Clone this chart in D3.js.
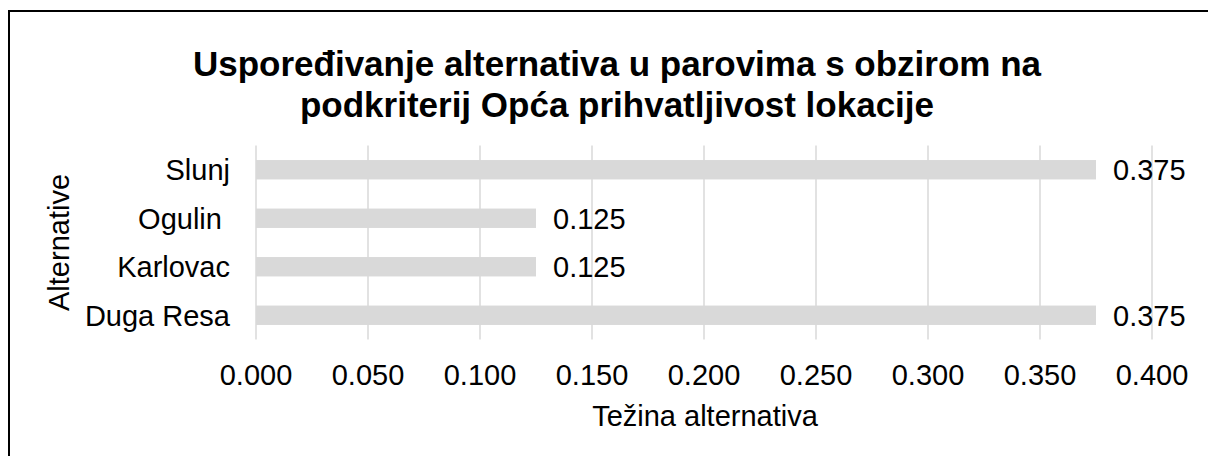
<!DOCTYPE html>
<html>
<head>
<meta charset="utf-8">
<script src="https://cdn.jsdelivr.net/npm/d3@7"></script>
<style>
  html, body { margin: 0; padding: 0; background: #fff; }
  svg { display: block; font-family: "Liberation Sans", Arial, sans-serif; }
</style>
</head>
<body>
<svg id="chart" width="1208" height="456"></svg>
<script>
const titleLines = ["Uspoređivanje alternativa u parovima s obzirom na", "podkriterij Opća prihvatljivost lokacije"];
const categories = ["Slunj", "Ogulin ", "Karlovac", "Duga Resa"];
const values = [0.375, 0.125, 0.125, 0.375];
const tickValues = [0, 0.05, 0.1, 0.15, 0.2, 0.25, 0.3, 0.35, 0.4];
const xTitle = "Težina alternativa";
const yTitle = "Alternative";

const svg = d3.select("#chart");
const FS = 29;

// chart area border (extends past right/bottom edges)
svg.append("rect").attr("x", 9).attr("y", 11).attr("width", 1400).attr("height", 800)
  .attr("fill", "#fff").attr("stroke", "#000").attr("stroke-width", 2);

const plot = { left: 256, right: 1152, top: 145.5, bottom: 339.5 };

const x = d3.scaleLinear().domain([0, 0.4]).range([plot.left, plot.right]);
const y = d3.scaleBand().domain(categories).range([plot.top, plot.bottom])
  .paddingInner(0.6).paddingOuter(0.3);

// gridlines
svg.append("g").selectAll("line").data(tickValues).join("line")
  .attr("x1", d => x(d)).attr("x2", d => x(d))
  .attr("y1", plot.top).attr("y2", plot.bottom)
  .attr("stroke", "#d9d9d9").attr("stroke-width", 1.5);

// bars
svg.append("g").selectAll("rect").data(categories).join("rect")
  .attr("x", x(0))
  .attr("y", d => y(d))
  .attr("width", (d, i) => x(values[i]) - x(0))
  .attr("height", y.bandwidth())
  .attr("fill", "#d9d9d9");

// value labels
svg.append("g").selectAll("text").data(categories).join("text")
  .attr("x", (d, i) => x(values[i]) + 17)
  .attr("y", d => y(d) + y.bandwidth() / 2 + 10.5)
  .attr("font-size", FS).attr("fill", "#000")
  .text((d, i) => d3.format(".3f")(values[i]));

// category labels
svg.append("g").selectAll("text").data(categories).join("text")
  .attr("x", 230)
  .attr("y", d => y(d) + y.bandwidth() / 2 + 10.5)
  .attr("text-anchor", "end")
  .attr("xml:space", "preserve")
  .style("white-space", "pre")
  .attr("font-size", FS).attr("fill", "#000")
  .text(d => d);

// x tick labels
svg.append("g").selectAll("text").data(tickValues).join("text")
  .attr("x", d => x(d))
  .attr("y", 385)
  .attr("text-anchor", "middle")
  .attr("font-size", FS).attr("fill", "#000")
  .text(d => d3.format(".3f")(d));

// axis titles
svg.append("text").attr("x", 705).attr("y", 425.5)
  .attr("text-anchor", "middle").attr("font-size", FS).attr("fill", "#000")
  .text(xTitle);

svg.append("text")
  .attr("transform", "translate(69,242.5) rotate(-90)")
  .attr("text-anchor", "middle").attr("font-size", FS).attr("fill", "#000")
  .text(yTitle);

// title
svg.append("g").selectAll("text").data(titleLines).join("text")
  .attr("x", 617)
  .attr("y", (d, i) => 76 + i * 41)
  .attr("text-anchor", "middle")
  .attr("font-size", 35).attr("font-weight", "bold").attr("fill", "#000")
  .text(d => d);
</script>
</body>
</html>
